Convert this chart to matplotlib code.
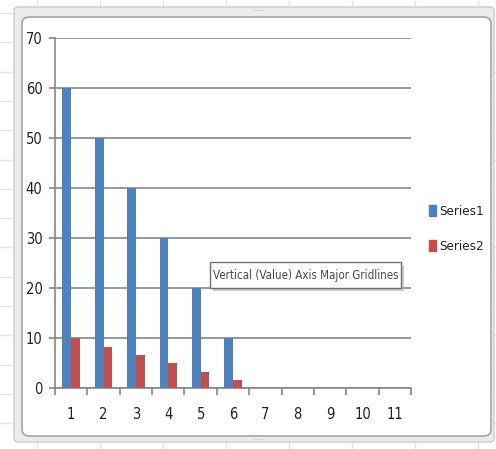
import matplotlib
matplotlib.use("Agg")
import matplotlib.pyplot as plt
from matplotlib.patches import FancyBboxPatch, Rectangle
from matplotlib.lines import Line2D
from matplotlib import font_manager
import numpy as np

categories = ["1", "2", "3", "4", "5", "6", "7", "8", "9", "10", "11"]
series1 = [60, 50, 40, 30, 20, 10, 0, 0, 0, 0, 0]
series2 = [10, 8.3, 6.6, 5.0, 3.3, 1.6, 0, 0, 0, 0, 0]
series_names = ["Series1", "Series2"]
y_ticks = [0, 10, 20, 30, 40, 50, 60, 70]

W, H = 496, 449

# prefer a narrow face for the labels when one is installed
narrow = font_manager.FontProperties(family="DejaVu Sans", stretch="condensed")
narrow_file = font_manager.findfont(narrow, fallback_to_default=True)
HAS_NARROW = "Condensed" in narrow_file
if HAS_NARROW:
    label_font = font_manager.FontProperties(fname=narrow_file)
else:
    label_font = font_manager.FontProperties(family="Liberation Sans")

plt.rcParams["font.family"] = ["Liberation Sans", "DejaVu Sans"]

fig = plt.figure(figsize=(W / 100, H / 100), dpi=100)
fig.patch.set_facecolor("white")


def fx(px):
    return px / W


def fy(py):
    return 1 - py / H


# worksheet cell grid behind the chart object
grid_col = "#e3e3e3"
for gx in [37, 100, 163, 226, 289, 352, 415, 478]:
    fig.add_artist(Line2D([fx(gx), fx(gx)], [0, 1], color=grid_col, lw=1, zorder=0))
for gy in np.arange(13, 449, 29.3):
    fig.add_artist(Line2D([0, 1], [fy(gy), fy(gy)], color=grid_col, lw=1, zorder=0))

# selection frame around the chart
frame = FancyBboxPatch((fx(14), fy(442)), fx(480), 435 / H,
                       boxstyle="round,pad=0,rounding_size=0.008",
                       transform=fig.transFigure, facecolor="#ebebeb",
                       edgecolor="#cdcdcd", lw=1, zorder=1)
fig.add_artist(frame)
chart = FancyBboxPatch((fx(22), fy(436)), fx(469), 419 / H,
                       boxstyle="round,pad=0,rounding_size=0.015",
                       transform=fig.transFigure, facecolor="white",
                       edgecolor="#a6a6a6", lw=1.2, zorder=2)
fig.add_artist(chart)

# resize handles
for hx, hy in [(258, 12), (258, 441)]:
    fig.text(fx(hx), fy(hy), "····", fontsize=6, color="#8a8a8a",
             ha="center", va="center", zorder=3)
fig.text(fx(18), fy(230), "·\n·\n·\n·", fontsize=4, color="#8a8a8a",
         ha="center", va="center", linespacing=0.8, zorder=3)

ax = fig.add_axes([fx(55), fy(388), fx(411 - 55), (388 - 38) / H], zorder=4)
ax.set_facecolor("none")

x = np.arange(len(categories))
bw = 0.27
blue = "#4F81BD"
red = "#C0504D"
ax.bar(x - bw / 2, series1, width=bw, color=blue, zorder=3, label=series_names[0])
ax.bar(x + bw / 2, series2, width=bw, color=red, zorder=3, label=series_names[1])

ax.set_xlim(-0.5, len(categories) - 0.5)
ax.set_ylim(0, 70)
ax.set_yticks(y_ticks)
ax.set_yticklabels([str(v) for v in y_ticks])
ax.set_xticks(x)
ax.set_xticklabels(categories)
ax.set_xticks(np.arange(-0.5, len(categories)), minor=True)

tick_size = 10.5 if HAS_NARROW else 10
for lab in ax.get_xticklabels() + ax.get_yticklabels():
    lab.set_fontproperties(label_font)
    lab.set_fontsize(tick_size)
    lab.set_color("#222222")

axis_col = "#868686"
ax.grid(axis="y", color=axis_col, lw=1.2, zorder=1)
for s in ["top", "right"]:
    ax.spines[s].set_visible(False)
for s in ["left", "bottom"]:
    ax.spines[s].set_color(axis_col)
    ax.spines[s].set_linewidth(1.2)

ax.tick_params(axis="y", length=4, width=1.2, color=axis_col, pad=5)
ax.tick_params(axis="x", which="major", length=0, pad=14)
ax.tick_params(axis="x", which="minor", length=5, width=1.2, color=axis_col)

handles = [Rectangle((0, 0), 1, 1, color=blue), Rectangle((0, 0), 1, 1, color=red)]
leg_prop = label_font.copy()
leg_prop.set_size(9.6 if HAS_NARROW else 9)
leg = fig.legend(handles, series_names, loc="upper left",
                 bbox_to_anchor=(fx(429), fy(205)), frameon=False, prop=leg_prop,
                 handlelength=0.55, handleheight=0.85, handletextpad=0.25,
                 labelspacing=1.65, borderaxespad=0, borderpad=0)
for t in leg.get_texts():
    t.set_color("#222222")

# hover tooltip over the gridlines
tip_x0, tip_y0, tip_x1, tip_y1 = 210, 262, 401, 288
fig.add_artist(Rectangle((fx(tip_x0 + 3), fy(tip_y1 + 3)), fx(tip_x1 - tip_x0),
                         (tip_y1 - tip_y0) / H, transform=fig.transFigure,
                         facecolor="#b8b8b8", edgecolor="none", zorder=9, alpha=0.7))
fig.add_artist(Rectangle((fx(tip_x0), fy(tip_y1)), fx(tip_x1 - tip_x0),
                         (tip_y1 - tip_y0) / H, transform=fig.transFigure,
                         facecolor="white", edgecolor="#6e6e6e", lw=1, zorder=10))
tip_prop = label_font.copy()
tip_prop.set_size(8.3 if HAS_NARROW else 7.4)
fig.text(fx((tip_x0 + tip_x1) / 2), fy((tip_y0 + tip_y1) / 2),
         "Vertical (Value) Axis Major Gridlines", fontproperties=tip_prop,
         color="#4a4a4a", ha="center", va="center", zorder=11)

fig.savefig("out.png", dpi=100)
